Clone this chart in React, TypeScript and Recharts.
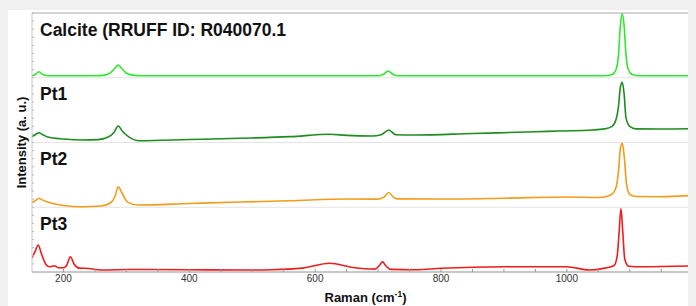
import React from 'react';
import { LineChart, Line, XAxis, YAxis, ReferenceLine } from 'recharts';

// Spectra: [Raman shift (cm-1), relative intensity within its panel (0-100)]
const calcite: [number, number][] = [
  [150, 3], [155, 5], [161, 9.3], [167, 5], [175, 3.2], [185, 3], [250, 3], [265, 4], [275, 8],
  [282, 15], [287, 19.7], [292, 15], [300, 7], [310, 4], [325, 3], [700, 3], [708, 5], [716, 10.4],
  [724, 5], [732, 3], [1060, 3], [1072, 5], [1078, 12], [1082, 35], [1085, 80], [1088, 99], [1091, 80],
  [1094, 35], [1098, 12], [1104, 5], [1115, 3], [1210, 3],
];

const pt1: [number, number][] = [
  [150, 9], [155, 12], [161, 15], [167, 12], [175, 8.5], [200, 5.4], [230, 3.9], [255, 4.5], [270, 8],
  [280, 15], [287, 25.5], [294, 17], [305, 8], [320, 2.8], [400, 4.6], [480, 6.5], [560, 9], [623, 12.7],
  [650, 11], [690, 10], [705, 12], [717, 19.3], [728, 12], [760, 11.6], [850, 14], [950, 16.5],
  [988, 17.8], [1040, 19.3], [1060, 21], [1072, 25], [1078, 35], [1082, 55], [1085, 85], [1088, 93],
  [1091, 75], [1094, 38], [1100, 25], [1110, 21], [1150, 20.8], [1210, 21.5],
];

const pt2: [number, number][] = [
  [150, 7], [155, 10], [161, 13.8], [167, 11], [175, 8], [200, 2.7], [230, 0.8], [260, 2], [275, 7],
  [282, 17], [287, 31.7], [293, 22], [302, 8], [318, 3.5], [400, 5.8], [480, 8], [560, 10], [650, 12.7],
  [700, 12.5], [710, 16], [717, 22.8], [724, 16], [730, 13], [800, 12.7], [900, 14], [1000, 15.8],
  [1050, 15], [1070, 19], [1078, 30], [1082, 55], [1085, 90], [1088, 99], [1091, 80], [1095, 35],
  [1100, 20], [1110, 16.5], [1150, 16.3], [1210, 19],
];

const pt3: [number, number][] = [
  [150, 21.6], [155, 32], [160, 41.7], [165, 28], [172, 12], [178, 8], [186, 9.7], [192, 6.5], [200, 6.5],
  [205, 10], [211, 23.6], [217, 12], [225, 6], [240, 5.4], [260, 3], [300, 3.9], [400, 3.5], [480, 3],
  [530, 3.5], [580, 6], [623, 13.4], [660, 7], [695, 4.5], [702, 10], [707, 16], [712, 10], [720, 4],
  [760, 3.5], [800, 5.7], [900, 8.2], [1000, 8], [1036, 3.1], [1060, 6], [1075, 10], [1080, 25],
  [1083, 60], [1086, 98], [1089, 60], [1092, 20], [1098, 9], [1120, 8.2], [1210, 9.8],
];

const panelNames = ['Pt3', 'Pt2', 'Pt1', 'Calcite (RRUFF ID: R040070.1'];
const seriesColors = ['#ee1c1c', '#f39c1a', '#1e8c1e', '#30e830'];
const xTickLabels = [200, 400, 600, 800, 1000];
const xMinorTicks = [200, 250, 300, 350, 400, 450, 500, 550, 600, 650, 700, 750, 800, 850, 900, 950, 1000, 1050, 1100, 1150, 1200];
const yMinorTicks = Array.from({ length: 33 }, (_, i) => i * 0.125);

const FONT = '"Liberation Sans", Arial, Helvetica, sans-serif';

if (typeof document !== 'undefined') {
  document.body.style.background = '#f0f0f0';
  document.body.style.overflow = 'hidden';
}

const spectra = [pt3, pt2, pt1, calcite];
const rows = spectra.map((s, k) => s.map(([x, v]) => ({ x, y: k + v / 100 })));

const XTick = (props: any) => {
  const { x, y, payload } = props;
  const v = payload.value;
  return (
    <g>
      <line x1={x} x2={x} y1={y - 3} y2={y} stroke="#999" strokeWidth={1} />
      {xTickLabels.includes(v) && (
        <text x={x} y={y + 10} textAnchor="middle" fontSize={10} fill="#333" fontFamily={FONT}>
          {v}
        </text>
      )}
    </g>
  );
};

const YTick = (props: any) => {
  const { x, y } = props;
  return <line x1={x} x2={x + 2} y1={y} y2={y} stroke="#bbb" strokeWidth={1} />;
};

const panelLabel = (text: string) => (props: any) => {
  const vb = props.viewBox || {};
  return (
    <text x={(vb.x ?? 0) + 8} y={(vb.y ?? 0) + 22.5} fontSize={17.5} fontWeight="bold" fill="#111" fontFamily={FONT}>
      {text}
    </text>
  );
};

const XLabel = (props: any) => {
  const vb = props.viewBox || {};
  const cx = (vb.x ?? 0) + (vb.width ?? 0) / 2;
  return (
    <text x={cx} y={292} textAnchor="middle" fontSize={13} fontWeight="bold" fill="#111" fontFamily={FONT}>
      <tspan>Raman (cm</tspan>
      <tspan fontSize={8.5} dy={-5}>-1</tspan>
      <tspan dy={5}>)</tspan>
    </text>
  );
};

const YLabel = () => (
  <text
    transform="translate(13,132.5) rotate(-90)"
    textAnchor="middle"
    dominantBaseline="central"
    fontSize={13}
    fontWeight="bold"
    fill="#111"
    fontFamily={FONT}
  >
    Intensity (a. u.)
  </text>
);

export default function App() {
  return (
    <div style={{ marginTop: 2, width: 720, height: 296, background: '#ffffff', overflow: 'hidden' }}>
      <LineChart width={700} height={296} margin={{ top: 3, right: 9, bottom: 0, left: 0 }}>
        <XAxis
          type="number"
          dataKey="x"
          domain={[150, 1210]}
          ticks={xMinorTicks}
          interval={0}
          tickSize={0}
          tickMargin={0}
          tickLine={false}
          tick={XTick}
          height={34}
          axisLine={{ stroke: '#c8c8c8', strokeWidth: 2 }}
          allowDataOverflow
          label={XLabel}
        />
        <YAxis
          type="number"
          domain={[0, 4]}
          ticks={yMinorTicks}
          interval={0}
          width={24}
          tickSize={0}
          tickMargin={0}
          tickLine={false}
          tick={YTick}
          axisLine={{ stroke: '#c8c8c8', strokeWidth: 1 }}
          allowDataOverflow
          label={YLabel}
        />
        {[1, 2, 3, 4].map((yv, i) => (
          <ReferenceLine
            key={yv}
            y={yv}
            stroke={yv === 4 ? '#a8a8a8' : '#e4e4e4'}
            strokeWidth={1}
            label={panelLabel(panelNames[i])}
          />
        ))}
        {rows.map((data, k) => (
          <Line
            key={k}
            data={data}
            dataKey="y"
            type="monotone"
            stroke={seriesColors[k]}
            strokeWidth={1.6}
            dot={false}
            activeDot={false}
            isAnimationActive={false}
          />
        ))}
      </LineChart>
    </div>
  );
}
